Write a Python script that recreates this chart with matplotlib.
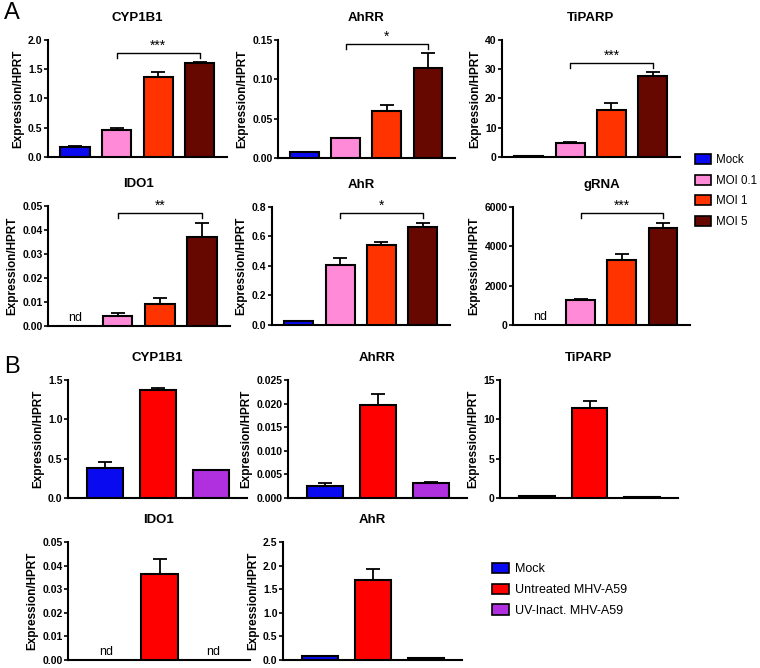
import matplotlib
matplotlib.use("Agg")
import matplotlib.pyplot as plt
from matplotlib.patches import Patch
import numpy as np

plt.rcParams['font.family'] = ['Liberation Sans', 'DejaVu Sans']

W, H = 760, 668

# ---------------- data ----------------
groups_A = ["Mock", "MOI 0.1", "MOI 1", "MOI 5"]
colors_A = ["#0a0af0", "#ff8ad8", "#ff3300", "#660800"]
groups_B = ["Mock", "Untreated MHV-A59", "UV-Inact. MHV-A59"]
colors_B = ["#0a0af0", "#ff0000", "#b030e0"]

# Panel A (nan = not detected)
A_titles = ["CYP1B1", "AhRR", "TiPARP", "IDO1", "AhR", "gRNA"]
A_cyp_mean = [0.17, 0.47, 1.37, 1.60]
A_cyp_err = [0.02, 0.03, 0.09, 0.02]
A_ahrr_mean = [0.007, 0.025, 0.060, 0.114]
A_ahrr_err = [0.001, 0.001, 0.007, 0.020]
A_tip_mean = [0.3, 4.8, 16.2, 27.6]
A_tip_err = [0.0, 0.3, 2.1, 1.6]
A_ido_mean = [np.nan, 0.0043, 0.0090, 0.0370]
A_ido_err = [0.0, 0.0010, 0.0025, 0.0060]
A_ahr_mean = [0.025, 0.41, 0.54, 0.665]
A_ahr_err = [0.003, 0.045, 0.022, 0.028]
A_grna_mean = [np.nan, 1270, 3300, 4930]
A_grna_err = [0, 40, 310, 250]
A_sig = ["***", "*", "***", "**", "*", "***"]
A_sig_y = [1.78, 0.145, 32, 0.047, 0.76, 5700]
A_ymax = [2.0, 0.15, 40, 0.05, 0.8, 6000]
A_ystep = [0.5, 0.05, 10, 0.01, 0.2, 2000]
A_yfmt = ["{:.1f}", "{:.2f}", "{:.0f}", "{:.2f}", "{:.1f}", "{:.0f}"]

# Panel B
B_titles = ["CYP1B1", "AhRR", "TiPARP", "IDO1", "AhR"]
B_cyp_mean = [0.38, 1.37, 0.35]
B_cyp_err = [0.08, 0.03, 0.01]
B_ahrr_mean = [0.0026, 0.0197, 0.0031]
B_ahrr_err = [0.0005, 0.0023, 0.0002]
B_tip_mean = [0.2, 11.4, 0.15]
B_tip_err = [0.0, 0.9, 0.0]
B_ido_mean = [np.nan, 0.0365, np.nan]
B_ido_err = [0.0, 0.0062, 0.0]
B_ahr_mean = [0.08, 1.70, 0.04]
B_ahr_err = [0.01, 0.22, 0.0]
B_ymax = [1.5, 0.025, 15, 0.05, 2.5]
B_ystep = [0.5, 0.005, 5, 0.01, 0.5]
B_yfmt = ["{:.1f}", "{:.3f}", "{:.0f}", "{:.2f}", "{:.1f}"]

A_means = [A_cyp_mean, A_ahrr_mean, A_tip_mean, A_ido_mean, A_ahr_mean, A_grna_mean]
A_errs = [A_cyp_err, A_ahrr_err, A_tip_err, A_ido_err, A_ahr_err, A_grna_err]
B_means = [B_cyp_mean, B_ahrr_mean, B_tip_mean, B_ido_mean, B_ahr_mean]
B_errs = [B_cyp_err, B_ahrr_err, B_tip_err, B_ido_err, B_ahr_err]

# pixel boxes (x0, ytop, x1, ybottom)
A_boxes = [(48, 40, 227, 157), (278, 40, 455, 158), (502, 40, 680, 157),
           (48, 206, 230, 326), (272, 207, 450, 325), (513, 207, 690, 325)]
B_boxes = [(68, 380, 247, 498), (288, 380, 467, 498), (500, 380, 678, 498),
           (68, 542, 250, 660), (283, 542, 462, 660)]

fig = plt.figure(figsize=(W / 100, H / 100), dpi=100)


def make_ax(box):
    x0, yt, x1, yb = box
    return fig.add_axes([x0 / W, 1 - yb / H, (x1 - x0) / W, (yb - yt) / H])


def draw(ax, means, errs, colors, title, ymax, ystep, fmt, xlim, width):
    n = len(means)
    x = np.arange(n)
    for i in range(n):
        m = means[i]
        if np.isnan(m):
            ax.text(x[i], ymax * 0.02, "nd", ha="center", va="bottom", fontsize=9)
            continue
        ax.bar(x[i], m, width=width, color=colors[i], edgecolor="black",
               linewidth=1.5, zorder=3)
        if errs[i] > 0:
            ax.errorbar(x[i], m, yerr=[[0], [errs[i]]], fmt="none", ecolor="black",
                        elinewidth=1.3, capsize=5, capthick=1.3, zorder=2)
    ax.set_xlim(*xlim)
    ax.set_ylim(0, ymax)
    ticks = np.arange(0, ymax + ystep / 2, ystep)
    ax.set_yticks(ticks)
    ax.set_yticklabels([fmt.format(t) for t in ticks], fontsize=7.5, fontweight="bold")
    ax.set_xticks([])
    for s in ["top", "right"]:
        ax.spines[s].set_visible(False)
    ax.spines["left"].set_linewidth(1.5)
    ax.spines["bottom"].set_linewidth(1.5)
    ax.tick_params(axis="y", direction="out", length=3, width=1.2, pad=1)
    ax.set_ylabel("Expression/HPRT", fontsize=8.5, fontweight="bold", labelpad=3)
    ax.set_title(title, fontsize=9.5, fontweight="bold", pad=14)


for i in range(6):
    ax = make_ax(A_boxes[i])
    draw(ax, A_means[i], A_errs[i], colors_A, A_titles[i], A_ymax[i], A_ystep[i],
         A_yfmt[i], (-0.65, 3.66), 0.7)
    y = A_sig_y[i]
    tick = A_ymax[i] * 0.04
    ax.plot([1, 1, 3, 3], [y - tick, y, y, y - tick], color="black", lw=1.0,
            clip_on=False, zorder=4)
    ax.text(2, y + A_ymax[i] * 0.005, A_sig[i], ha="center", va="bottom",
            fontsize=10, clip_on=False)

for i in range(5):
    ax = make_ax(B_boxes[i])
    draw(ax, B_means[i], B_errs[i], colors_B, B_titles[i], B_ymax[i], B_ystep[i],
         B_yfmt[i], (-0.7, 2.68), 0.68)

leg_kw_A = dict(loc="upper left", frameon=False, fontsize=8.3, handlelength=1.4,
                handleheight=0.95, labelspacing=0.75, handletextpad=0.45,
                borderpad=0, borderaxespad=0)
leg_kw_B = dict(loc="upper left", frameon=False, fontsize=9, handlelength=1.35,
                handleheight=0.9, labelspacing=0.65, handletextpad=0.5,
                borderpad=0, borderaxespad=0)

handles_A = [Patch(facecolor=c, edgecolor="black", linewidth=1.2, label=g)
             for c, g in zip(colors_A, groups_A)]
fig.legend(handles=handles_A, bbox_to_anchor=(695 / W, 1 - 154 / H), **leg_kw_A)

handles_B = [Patch(facecolor=c, edgecolor="black", linewidth=1.2, label=g)
             for c, g in zip(colors_B, groups_B)]
fig.legend(handles=handles_B, bbox_to_anchor=(492 / W, 1 - 563 / H), **leg_kw_B)

fig.text(4 / W, 1 - 2 / H, "A", fontsize=17, va="top", ha="left")
fig.text(4 / W, 1 - 356 / H, "B", fontsize=17, va="top", ha="left")

fig.savefig("out.png", dpi=100)
